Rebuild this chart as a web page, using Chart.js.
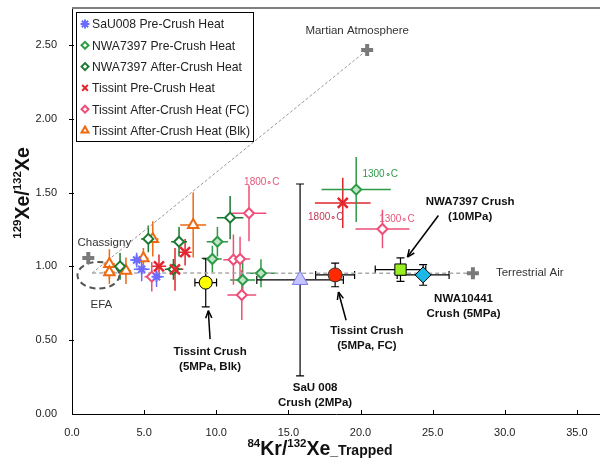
<!DOCTYPE html>
<html>
<head>
<meta charset="utf-8">
<script src="https://cdn.jsdelivr.net/npm/chart.js@4.4.1/dist/chart.umd.min.js"></script>
<style>
  html, body { margin: 0; padding: 0; background: #fff; }
  canvas { display: block; }
</style>
</head>
<body>
<canvas id="xeChart" width="600" height="463"></canvas>
<script>
// --- data ---
// SaU008 Pre-Crush Heat
const sauHeatX = [4.48, 4.83, 5.86];
const sauHeatY = [1.043, 0.98, 0.93];
const sauHeatXErr = [0.45, 0.55, 0.5];
const sauHeatYErr = [0.05, 0.08, 0.07];

// NWA7397 Pre-Crush Heat
const nwaPreX = [9.73, 10.08, 11.83, 13.1, 19.7];
const nwaPreY = [1.05, 1.167, 0.908, 0.953, 1.52];
const nwaPreXErr = [0.65, 0.74, 0.87, 1.0, 2.4];
const nwaPreYErr = [0.09, 0.1, 0.12, 0.095, 0.22];

// NWA7397 After-Crush Heat
const nwaAfterX = [3.33, 5.29, 7.03, 7.42, 10.96];
const nwaAfterY = [1.0, 1.186, 0.98, 1.167, 1.33];
const nwaAfterXErr = [0.46, 0.5, 0.6, 0.55, 0.92];
const nwaAfterYErr = [0.09, 0.09, 0.07, 0.1, 0.147];

// Tissint Pre-Crush Heat
const tisPreX = [6.03, 7.14, 7.84, 18.77];
const tisPreY = [1.0, 0.98, 1.096, 1.43];
const tisPreXErr = [0.5, 0.58, 0.46, 1.93];
const tisPreYErr = [0.08, 0.145, 0.09, 0.17];

// Tissint After-Crush Heat (FC)
const tisFcX = [5.53, 11.19, 11.65, 11.77, 12.27, 21.52];
const tisFcY = [0.93, 1.045, 1.05, 0.806, 1.36, 1.253];
const tisFcXErr = [0.5, 0.7, 0.7, 1.0, 1.2, 1.87];
const tisFcYErr = [0.1, 0.17, 0.15, 0.17, 0.19, 0.13];

// Tissint After-Crush Heat (Blk)
const tisBlkX = [2.59, 2.59, 3.74, 4.95, 5.6, 8.4];
const tisBlkY = [1.016, 0.96, 0.97, 1.055, 1.186, 1.28];
const tisBlkXErr = [0.4, 0.4, 0.35, 0.35, 0.4, 0.9];
const tisBlkYErr = [0.1, 0.08, 0.09, 0.07, 0.12, 0.22];

// crush results (big markers)
const crushX = [9.27, 15.81, 18.24, 22.77, 24.34];
const crushY = [0.89, 0.908, 0.942, 0.978, 0.942];
const crushXErr = [0.75, 3.0, 1.35, 1.75, 1.8];
const crushYErr = [0.165, 0.65, 0.08, 0.08, 0.07];

// reference compositions
const refNames = ["Martian Atmosphere", "Chassigny", "Terrestrial Air"];
const refX = [20.46, 1.13, 27.79];
const refY = [2.466, 1.056, 0.953];
const mixStartX = 1.4;
const mixStartY = 0.955;

// EFA field (centre and half sizes)
const efaX = 1.83, efaY = 0.94, efaHalfX = 1.45, efaHalfY = 0.09;

// temperature step labels
const tempText = ["1800\u2218C", "1800\u2218C", "1300\u2218C", "1300\u2218C"];
const tempX = [13.16, 17.59, 21.36, 22.52];
const tempY = [1.57, 1.333, 1.626, 1.316];
const tempColor = ["#e8557a", "#c23652", "#2e9a48", "#e8557a"];

// crush annotations
const noteLines = [["Tissint Crush", "(5MPa, Blk)"], ["SaU 008", "Crush (2MPa)"],
  ["Tissint Crush", "(5MPa, FC)"], ["NWA7397 Crush", "(10MPa)"], ["NWA10441", "Crush (5MPa)"]];
const noteX = [9.57, 16.85, 20.44, 27.6, 27.14];
const noteY = [0.419, 0.176, 0.56, 1.44, 0.782];
const arrowFromX = [9.57, null, 19.0, 25.4, null];
const arrowFromY = [0.507, null, 0.635, 1.345, null];
const arrowToX = [9.45, null, 18.47, 23.25, null];
const arrowToY = [0.70, null, 0.826, 1.063, null];

// axis ticks
const xTickMax = 35;
const yTickMax = 2.5;

const FONT = "'Liberation Sans', Arial, sans-serif";

function pts(xs, ys) {
    return xs.map((v, i) => ({ x: v, y: ys[i] }));
}

function heatSet(label, xs, ys, xe, ye, style, color, fill, radius, bw) {
    return {
        label: label,
        data: pts(xs, ys),
        xErr: xe,
        yErr: ye,
        errColor: color,
        errWidth: 1.5,
        pointStyle: style,
        pointRadius: radius || 5,
        pointBorderWidth: bw || 2,
        borderColor: color,
        backgroundColor: fill,
        order: 2,
    };
}

function crushSet(i, style, fill, border, radius) {
    return {
        label: "crush" + i,
        data: [{ x: crushX[i], y: crushY[i] }],
        xErr: [crushXErr[i]],
        yErr: [crushYErr[i]],
        errColor: "#000",
        errWidth: 1.2,
        cap: 4,
        pointStyle: style,
        pointRadius: radius,
        pointBorderWidth: 1,
        borderColor: border,
        backgroundColor: fill,
        order: 1,
    };
}

const legendItems = [
    { text: "SaU008 Pre-Crush Heat", style: "star", color: "#6b6bff", fill: "#6b6bff", r: 4.5 },
    { text: "NWA7397 Pre-Crush Heat", style: "rectRot", color: "#2ea043", fill: "#fff", r: 3.5 },
    { text: "NWA7397 After-Crush Heat", style: "rectRot", color: "#1a7a32", fill: "#fff", r: 3.5 },
    { text: "Tissint Pre-Crush Heat", style: "crossRot", color: "#e3262e", fill: "#e3262e", r: 4 },
    { text: "Tissint After-Crush Heat (FC)", style: "rectRot", color: "#ee4f78", fill: "#fff", r: 3.5 },
    { text: "Tissint After-Crush Heat (Blk)", style: "triangle", color: "#ee6a10", fill: "#fff", r: 4 },
];

function spread(e) {
    if (e === undefined || e === null) return null;
    return Array.isArray(e) ? e : [e, e];
}

// error bars drawn under the markers
const errorBars = {
    id: "errorBars",
    beforeDatasetsDraw(chart) {
        const ctx = chart.ctx;
        const xs = chart.scales.x, ys = chart.scales.y;
        ctx.save();
        chart.data.datasets.forEach((ds) => {
            if (!ds.xErr && !ds.yErr) return;
            ctx.strokeStyle = ds.errColor;
            ctx.lineWidth = ds.errWidth;
            const cap = ds.cap || 0;
            ds.data.forEach((p, j) => {
                const px = xs.getPixelForValue(p.x);
                const py = ys.getPixelForValue(p.y);
                const xe = spread(ds.xErr && ds.xErr[j]);
                const ye = spread(ds.yErr && ds.yErr[j]);
                ctx.beginPath();
                if (xe) {
                    const a = xs.getPixelForValue(p.x - xe[0]);
                    const b = xs.getPixelForValue(p.x + xe[1]);
                    ctx.moveTo(a, py); ctx.lineTo(b, py);
                    if (cap) {
                        ctx.moveTo(a, py - cap); ctx.lineTo(a, py + cap);
                        ctx.moveTo(b, py - cap); ctx.lineTo(b, py + cap);
                    }
                }
                if (ye) {
                    const a = ys.getPixelForValue(p.y - ye[0]);
                    const b = ys.getPixelForValue(p.y + ye[1]);
                    ctx.moveTo(px, a); ctx.lineTo(px, b);
                    if (cap) {
                        ctx.moveTo(px - cap, a); ctx.lineTo(px + cap, a);
                        ctx.moveTo(px - cap, b); ctx.lineTo(px + cap, b);
                    }
                }
                ctx.stroke();
            });
        });

        // EFA dashed ellipse
        const cx = xs.getPixelForValue(efaX), cy = ys.getPixelForValue(efaY);
        const rx = xs.getPixelForValue(efaX + efaHalfX) - cx;
        const ry = cy - ys.getPixelForValue(efaY + efaHalfY);
        ctx.strokeStyle = "#555";
        ctx.lineWidth = 2;
        ctx.setLineDash([6, 4]);
        ctx.beginPath();
        ctx.ellipse(cx, cy, rx, ry, 0, 0, Math.PI * 2);
        ctx.stroke();
        ctx.restore();
    },
};

function drawSupText(ctx, parts, x, y, align) {
    // parts: [text, font, rise]
    let w = 0;
    parts.forEach((p) => { ctx.font = p[1]; w += ctx.measureText(p[0]).width; });
    let cur = align === "center" ? x - w / 2 : x;
    ctx.textAlign = "left";
    parts.forEach((p) => {
        ctx.font = p[1];
        ctx.fillText(p[0], cur, y - p[2]);
        cur += ctx.measureText(p[0]).width;
    });
}

const annotations = {
    id: "annotations",
    afterDatasetsDraw(chart) {
        const ctx = chart.ctx;
        const xs = chart.scales.x, ys = chart.scales.y;
        const area = chart.chartArea;
        ctx.save();

        // top frame line
        ctx.strokeStyle = "#808080";
        ctx.lineWidth = 2;
        ctx.beginPath();
        ctx.moveTo(area.left, area.top);
        ctx.lineTo(area.right, area.top);
        ctx.stroke();

        // tick marks
        ctx.strokeStyle = "#000";
        ctx.lineWidth = 1;
        ctx.beginPath();
        for (let v = 5; v <= xTickMax; v += 5) {
            const px = Math.round(xs.getPixelForValue(v)) + 0.5;
            ctx.moveTo(px, area.bottom); ctx.lineTo(px, area.bottom - 4);
        }
        for (let v = 0.5; v <= yTickMax + 1e-9; v += 0.5) {
            const py = Math.round(ys.getPixelForValue(v)) + 0.5;
            ctx.moveTo(area.left - 3, py); ctx.lineTo(area.left + 2, py);
        }
        ctx.stroke();

        // reference labels
        ctx.fillStyle = "#333";
        ctx.font = "11.5px " + FONT;
        ctx.textBaseline = "middle";
        ctx.textAlign = "center";
        ctx.fillText(refNames[0], xs.getPixelForValue(refX[0]) - 10, ys.getPixelForValue(refY[0]) - 19);
        ctx.fillText(refNames[1], xs.getPixelForValue(refX[1]) + 16, ys.getPixelForValue(refY[1]) - 15);
        ctx.fillText("EFA", xs.getPixelForValue(efaX) + 3, ys.getPixelForValue(efaY) + 30);
        ctx.textAlign = "left";
        ctx.fillText(refNames[2], xs.getPixelForValue(refX[2]) + 23, ys.getPixelForValue(refY[2]));

        // temperature labels
        ctx.font = "10px " + FONT;
        ctx.textAlign = "center";
        tempText.forEach((t, i) => {
            ctx.fillStyle = tempColor[i];
            ctx.fillText(t, xs.getPixelForValue(tempX[i]), ys.getPixelForValue(tempY[i]));
        });

        // crush notes
        ctx.fillStyle = "#111";
        ctx.font = "bold 11.5px " + FONT;
        noteLines.forEach((lines, i) => {
            const px = xs.getPixelForValue(noteX[i]);
            const py = ys.getPixelForValue(noteY[i]);
            lines.forEach((l, k) => ctx.fillText(l, px, py + k * 15));
        });

        // arrows
        ctx.strokeStyle = "#000";
        ctx.fillStyle = "#000";
        ctx.lineWidth = 1.5;
        arrowFromX.forEach((fx, i) => {
            if (fx === null) return;
            const x0 = xs.getPixelForValue(fx), y0 = ys.getPixelForValue(arrowFromY[i]);
            const x1 = xs.getPixelForValue(arrowToX[i]), y1 = ys.getPixelForValue(arrowToY[i]);
            const ang = Math.atan2(y1 - y0, x1 - x0);
            ctx.beginPath();
            ctx.moveTo(x0, y0); ctx.lineTo(x1, y1);
            ctx.stroke();
            ctx.beginPath();
            ctx.moveTo(x1, y1);
            ctx.lineTo(x1 - 8 * Math.cos(ang - 0.4), y1 - 8 * Math.sin(ang - 0.4));
            ctx.moveTo(x1, y1);
            ctx.lineTo(x1 - 8 * Math.cos(ang + 0.4), y1 - 8 * Math.sin(ang + 0.4));
            ctx.stroke();
        });

        // legend box
        const lx = area.left + 4, ly = area.top + 4, lw = 177, lh = 129;
        ctx.fillStyle = "#fff";
        ctx.fillRect(lx, ly, lw, lh);
        ctx.strokeStyle = "#000";
        ctx.lineWidth = 1;
        ctx.strokeRect(lx + 0.5, ly + 0.5, lw, lh);
        ctx.font = "12.2px " + FONT;
        ctx.textAlign = "left";
        legendItems.forEach((it, i) => {
            const y = ly + 12 + i * 21.3;
            ctx.fillStyle = it.fill;
            ctx.strokeStyle = it.color;
            ctx.lineWidth = 2;
            Chart.helpers.drawPoint(ctx, { pointStyle: it.style, radius: it.r, rotation: 0, borderWidth: 2 }, lx + 9, y);
            ctx.fillStyle = "#222";
            ctx.fillText(it.text, lx + 16, y + 1);
        });

        // axis titles with superscripts
        ctx.fillStyle = "#111";
        ctx.textBaseline = "alphabetic";
        const big = "bold 19.5px " + FONT, sup = "bold 11.5px " + FONT, small = "bold 14px " + FONT;
        drawSupText(ctx, [["84", sup, 8], ["Kr/", big, 0], ["132", sup, 8], ["Xe", big, 0], ["_Trapped", small, 0]],
            320, 455, "center");
        ctx.save();
        ctx.translate(29, 193);
        ctx.rotate(-Math.PI / 2);
        drawSupText(ctx, [["129", sup, 8], ["Xe/", big, 0], ["132", sup, 8], ["Xe", big, 0]], 0, 0, "center");
        ctx.restore();

        ctx.restore();
    },
};

const ctx = document.getElementById("xeChart").getContext("2d");

const datasets = [
    heatSet("SaU008 Pre-Crush Heat", sauHeatX, sauHeatY, sauHeatXErr, sauHeatYErr, "star", "#6b6bff", "#6b6bff", 5),
    heatSet("Tissint Pre-Crush Heat", tisPreX, tisPreY, tisPreXErr, tisPreYErr, "crossRot", "#e3262e", "#e3262e", 7, 2.5),
    heatSet("NWA7397 After-Crush Heat", nwaAfterX, nwaAfterY, nwaAfterXErr, nwaAfterYErr, "rectRot", "#1a7a32", "#fff", 5),
    heatSet("NWA7397 Pre-Crush Heat", nwaPreX, nwaPreY, nwaPreXErr, nwaPreYErr, "rectRot", "#2e9a48", "#bfe6c4", 5),
    heatSet("Tissint After-Crush Heat (FC)", tisFcX, tisFcY, tisFcXErr, tisFcYErr, "rectRot", "#ee4f78", "#fff", 5),
    heatSet("Tissint After-Crush Heat (Blk)", tisBlkX, tisBlkY, tisBlkXErr, tisBlkYErr, "triangle", "#ee6a10", "#fff", 6),
    crushSet(0, "circle", "#ffff00", "#000", 6.5),
    crushSet(1, "triangle", "#c4c4ff", "#7a7aee", 9),
    crushSet(2, "circle", "#ff2a00", "#333", 7),
    crushSet(3, "rect", "#99ee22", "#000", 8),
    crushSet(4, "rectRot", "#1cb8e6", "#000", 8),
    {
        label: "refs",
        data: pts(refX, refY),
        pointStyle: "cross",
        pointRadius: 6,
        pointBorderWidth: 4,
        borderColor: "#7a7a7a",
        backgroundColor: "#7a7a7a",
        order: 3,
    },
    {
        label: "mars line",
        type: "line",
        data: [{ x: mixStartX, y: mixStartY }, { x: refX[0], y: refY[0] }],
        borderColor: "#999",
        borderWidth: 1,
        borderDash: [3, 2],
        pointRadius: 0,
        order: 10,
    },
    {
        label: "air line",
        type: "line",
        data: [{ x: mixStartX, y: mixStartY }, { x: refX[2], y: refY[2] }],
        borderColor: "#aaa",
        borderWidth: 1.5,
        borderDash: [4, 3],
        pointRadius: 0,
        order: 10,
    },
];

const chart = new Chart(ctx, {
    type: "scatter",
    data: { datasets: datasets },
    options: {
        responsive: false,
        animation: false,
        devicePixelRatio: 1,
        layout: { autoPadding: false, padding: { top: 8, right: 0, left: 0, bottom: 0 } },
        plugins: {
            legend: { display: false },
            tooltip: { enabled: false },
        },
        scales: {
            x: {
                type: "linear",
                min: 0,
                max: 36.6,
                afterFit: (s) => { s.height = 49; s.paddingLeft = 0; s.paddingRight = 0; },
                afterBuildTicks: (s) => { s.ticks = s.ticks.filter((t) => t.value <= xTickMax + 1e-9); },
                grid: { display: false, drawTicks: false },
                border: { display: true, color: "#000", width: 1 },
                ticks: {
                    stepSize: 5,
                    includeBounds: false,
                    padding: 12,
                    color: "#222",
                    font: { family: FONT, size: 11 },
                    callback: (v) => Number(v).toFixed(1),
                },
            },
            y: {
                type: "linear",
                min: 0,
                max: 2.75,
                afterFit: (s) => { s.width = 72; s.paddingTop = 0; s.paddingBottom = 0; },
                afterBuildTicks: (s) => { s.ticks = s.ticks.filter((t) => t.value <= yTickMax + 1e-9); },
                grid: { display: false, drawTicks: false },
                border: { display: true, color: "#000", width: 1 },
                ticks: {
                    stepSize: 0.5,
                    includeBounds: false,
                    padding: 15,
                    color: "#222",
                    font: { family: FONT, size: 11 },
                    callback: (v) => Number(v).toFixed(2),
                },
            },
        },
    },
    plugins: [errorBars, annotations],
});
</script>
</body>
</html>
